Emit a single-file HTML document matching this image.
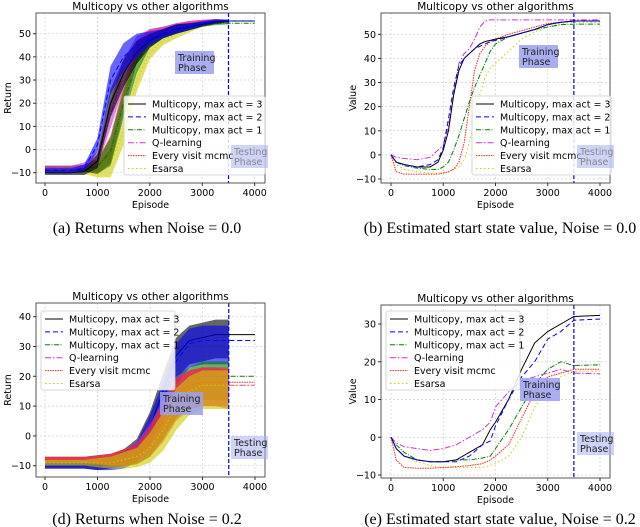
<!DOCTYPE html>
<html><head><meta charset="utf-8"><style>
body{margin:0;background:#fff;width:640px;height:527px;overflow:hidden}
svg{display:block}
text{font-family:"DejaVu Sans","Liberation Sans",sans-serif}
.cap{font-family:"Liberation Serif",serif;font-size:16px}
</style></head><body>
<svg id="fig" width="640" height="527"></svg>
<script>
// ---- shared ----
const seriesNames = ["Multicopy, max act = 3","Multicopy, max act = 2","Multicopy, max act = 1","Q-learning","Every visit mcmc","Esarsa"];
const xTicks = [0,1000,2000,3000,4000];
const retEpisodes = [0,250,500,750,1000,1250,1500,1750,2000,2250,2500,2750,3000,3250,3500,3750,4000];
// (a) returns noise 0.0: means and half-spreads
const aBlack  = [-10,-10,-10,-9.5,-5,20,33,42,47,50,52,53,54,55,55.5,55.5,55.5];
const aBlue   = [-9,-9,-9,-8,2,30,40,45,48,50,52,53,54.5,55.5,55.5,55.5,55.5];
const aGreen  = [-8,-8,-8,-8,-7.5,-1,20,38,47,50,52,53,54,54.5,54.5,54.5,54.5];
const aMagenta= [-8,-8,-8,-7,-4,15,33,44,49,51,52.5,54,55,55.5,55.5,55.5,55.5];
const aRed    = [-8,-8,-8,-8,-7.5,0,22,42,49,51,52.5,54,55,55.5,55.5,55.5,55.5];
const aYellow = [-9,-9,-9,-9,-9,-6,8,30,42,47,50,52,54,55,55.5,55.5,55.5];
const aSpread = [1,1,1,1.5,3,6,6,5,3,2,2,1.5,1,0.8,0.5,0.5,0.5];
const aYTicks = [-10,0,10,20,30,40,50];
// (d) returns noise 0.2
const dBlack  = [-10,-10,-10,-10,-10,-9,-7,-4,3,15,27,32,33,34,34,34,34];
const dBlue   = [-10,-10,-10,-10,-10,-9.5,-8,-5,2,12,25,31,32,32,32,32,32];
const dGreen  = [-8,-8,-8,-8,-8,-8,-7,-6,-2,6,14,18,20,20,20,20,20];
const dMagenta= [-8,-8,-8,-8,-8,-8,-7,-5,-1,6,14,17,18,18,17,17,17];
const dRed    = [-8,-8,-8,-8,-8,-8,-7,-6,-2,5,13,17,18,18,18,18,18];
const dYellow = [-9,-9,-9,-9,-9,-9,-8,-7,-4,2,10,15,17,17,17,17,17];
const dSpreadTop = [1,1,1,1,1.5,2,2.5,3,5,6,6,5,5,5,5,5,5];
const dSpreadLow = [1,1,1,1,1.5,2,3,3.5,5,7,8,8,8,8,8,8,8];
const dYTicks = [-10,0,10,20,30,40];
// (b) value noise 0.0
const bEpisodes = [0,100,250,500,750,900,1000,1100,1200,1300,1400,1500,1600,1700,1800,1900,2000,2250,2500,2750,3000,3250,3500,4000];
const bBlack  = [0,-3,-4,-5,-5,-3,2,10,25,35,40,42,44,46,47,47.5,48,49,50.5,52,54,55,55.5,55.5];
const bBlue   = [0,-3,-4,-5,-4,-2,3,15,28,37,40,42,44,45,46,47,47.5,49,50.5,52,54,55,55.5,55.5];
const bGreen  = [0,-3,-4.5,-5.5,-6,-6,-5,-3,2,8,15,22,28,33,38,43,46,49,50.5,52,53,54,54.2,54.2];
const bMagenta= [0,-1,-1.5,-2,-1,2,4,12,25,38,42,44,48,53,55.5,56,56,56,56,56,56,56,56,56];
const bRed    = [0,-7,-8,-8,-8,-8,-7.5,-7,-6,-3,5,20,35,42,45,47,48,50,51.5,53,54.5,55,55.5,55.5];
const bYellow = [0,-4,-6,-7,-7.5,-7.5,-7.5,-7,-6,-5,-2,5,15,25,32,36,38,43,48,51,53,54.5,55,55];
// (e) value noise 0.2
const eEpisodes = [0,100,250,500,750,1000,1250,1500,1750,1900,2000,2250,2500,2750,3000,3250,3500,4000];
const eBlack  = [0,-3,-5,-6,-6.5,-6.5,-6,-4,-2,2,4,10,18,25,28,30,32,32.3];
const eBlue   = [0,-3,-5,-6,-6.5,-6.5,-6.5,-5,-2,-1,3,10,16,20,26,28,31,31.3];
const eGreen  = [0,-2,-4,-6,-6.5,-6.5,-6,-6,-5.5,-5,-3,2,8,14,18,20,19,19.2];
const eMagenta= [0,-1.5,-2.5,-3,-3.5,-3,-2,0,2,4,8,12,15,16,17,18,17,16.8];
const eRed    = [0,-6,-8,-8.2,-8.2,-8,-7.8,-7.5,-7,-6,-5,-2,5,12,16,17,18,18];
const eYellow = [0,-3,-5,-6.5,-7.5,-8,-8,-8,-8,-7.5,-7,-5,0,8,13,16,17.5,17.5];
const eYTicks = [-10,0,10,20,30];

const colors = ["#000000","#0000ff","#008000","#cc33cc","#ff2020","#cccc00"];
const dashes = ["", "5,3", "5,1.5,1,1.5", "6,2,1.5,2", "1.5,1", "1.5,2.5"];
const NS="http://www.w3.org/2000/svg";
const svg=document.getElementById('fig');
function el(tag,attrs,parent){const e=document.createElementNS(NS,tag);for(const k in attrs)e.setAttribute(k,attrs[k]);(parent||svg).appendChild(e);return e;}
function txt(s,attrs,parent){const e=el('text',attrs,parent);e.textContent=s;return e;}

function makePlot(cfg){
  const g=el('g',{});
  
  
  const sx=v=>cfg.x0+(cfg.x4000-cfg.x0)*v/4000;
  const sy=v=>cfg.ya+(cfg.yb-cfg.ya)*(v-cfg.va)/(cfg.vb-cfg.va);
  el('rect',{x:cfg.L,y:cfg.T,width:cfg.R-cfg.L,height:cfg.B-cfg.T,fill:'#fff',stroke:'none'},g);
  xTicks.forEach(t=>{const l=el('line',{x1:sx(t),x2:sx(t),y1:cfg.T,y2:cfg.B,stroke:'#d0d0d0','stroke-width':0.7,'stroke-dasharray':'2,2'},g);
    });
  cfg.yTicks.forEach(t=>{const l=el('line',{x1:cfg.L,x2:cfg.R,y1:sy(t),y2:sy(t),stroke:'#d0d0d0','stroke-width':0.7,'stroke-dasharray':'2,2'},g);
    });
  cfg.order.forEach(i=>{
    const ys=cfg.series[i], eps=cfg.episodes;
    if(cfg.spreadTop){
      let up=[],lo=[];
      eps.forEach((e,k)=>{if(e<=3500){up.push(sx(e)+','+sy(ys[k]+cfg.spreadTop[k]));lo.unshift(sx(e)+','+sy(ys[k]-cfg.spreadLow[k]));}});
      const p=el('polygon',{points:up.concat(lo).join(' '),fill:colors[i],'fill-opacity':0.6,stroke:'none'},g);
      
      
    }
    const pts=eps.map((e,k)=>sx(e)+','+sy(ys[k])).join(' ');
    const pl=el('polyline',{points:pts,fill:'none',stroke:colors[i],'stroke-width':1,'stroke-dasharray':dashes[i]},g);
    
    
  });
  const vl=el('line',{x1:sx(3500),x2:sx(3500),y1:cfg.T,y2:cfg.B,stroke:'#0000ff','stroke-width':1.2,'stroke-dasharray':'4,2'},g);
  
  el('rect',{x:cfg.L,y:cfg.T,width:cfg.R-cfg.L,height:cfg.B-cfg.T,fill:'none',stroke:'#444','stroke-width':0.9},g);
  xTicks.forEach(t=>{el('line',{x1:sx(t),x2:sx(t),y1:cfg.B,y2:cfg.B+3,stroke:'#333'},g);
    const tt=txt(t,{x:sx(t),y:cfg.B+13,'font-size':9.5,'text-anchor':'middle'},g);
    });
  cfg.yTicks.forEach(t=>{el('line',{x1:cfg.L-3,x2:cfg.L,y1:sy(t),y2:sy(t),stroke:'#333'},g);
    const tt=txt(t<0?'\u2212'+(-t):t,{x:cfg.L-5,y:sy(t)+3.5,'font-size':9.5,'text-anchor':'end'},g);
    });
  const xt=txt('Episode',{x:(cfg.L+cfg.R)/2,y:cfg.B+25,'font-size':9.5,'text-anchor':'middle'},g);
  
  const yc=(cfg.T+cfg.B)/2;
  const yt=txt(cfg.ylabel,{x:cfg.L-25,y:yc,'font-size':9.5,'text-anchor':'middle',transform:`rotate(-90 ${cfg.L-25} ${yc})`},g);
  
  const ti=txt('Multicopy vs other algorithms',{x:(cfg.L+cfg.R)/2,y:cfg.T-3,'font-size':10.5,'text-anchor':'middle'},g);
  
  const lg=el('g',{},g);
  
  el('rect',{x:cfg.lx,y:cfg.ly,width:cfg.lw,height:79,fill:'#fff','fill-opacity':0.85,stroke:'#ccc','stroke-width':0.8,rx:2},lg);
  seriesNames.forEach((n,i)=>{const yy=cfg.ly+8+i*12.9;
    el('line',{x1:cfg.lx+4,x2:cfg.lx+22,y1:yy,y2:yy,stroke:colors[i],'stroke-width':1,'stroke-dasharray':dashes[i]},lg);
    const le=txt(n,{x:cfg.lx+28,y:yy+3.5,'font-size':9.5},lg);
    });
  [[cfg.tr,'Training','#9aa0ee',0.85],[cfg.te,'Testing','#a8aef0',0.55]].forEach(([b,w,c,o])=>{
    const bg=el('g',{},g);
    
    el('rect',{x:b[0],y:b[1],width:b[2],height:23,fill:c,'fill-opacity':o},bg);
    txt(w,{x:b[0]+3,y:b[1]+10,'font-size':9.5,fill:w=='Testing'&&cfg.fadeTest?'#888':'#222'},bg);
    txt('Phase',{x:b[0]+3,y:b[1]+20,'font-size':9.5,fill:w=='Testing'&&cfg.fadeTest?'#888':'#222'},bg);
  });
  const cp=txt(cfg.caption,{x:cfg.capx,y:cfg.capy,'text-anchor':'middle',class:'cap'});
  
}

makePlot({name:'plot-a',L:36,R:265,T:13,B:183,x0:45,x4000:254.7,ya:33.7,va:50,yb:172.7,vb:-10,yTicks:aYTicks,
  episodes:retEpisodes,series:[aBlack,aBlue,aGreen,aMagenta,aRed,aYellow],order:[5,4,2,3,0,1],
  spreadTop:aSpread,spreadLow:aSpread,ylabel:'Return',lx:124,ly:96,lw:141,
  tr:[175,51,39],te:[231,145,37],fadeTest:true,caption:'(a) Returns when Noise = 0.0',capx:147,capy:233});
makePlot({name:'plot-b',L:381,R:610,T:13,B:183,x0:391,x4000:600,ya:34.3,va:50,yb:179,vb:-10,yTicks:aYTicks,
  episodes:bEpisodes,series:[bBlack,bBlue,bGreen,bMagenta,bRed,bYellow],order:[5,4,2,3,0,1],
  ylabel:'Value',lx:472,ly:96,lw:139,tr:[519,45,39],te:[577,145,37],fadeTest:true,
  caption:'(b) Estimated start state value, Noise = 0.0',capx:500,capy:233});
makePlot({name:'plot-d',L:36,R:265,T:303,B:477,x0:45,x4000:255,ya:316.7,va:40,yb:465.7,vb:-10,yTicks:dYTicks,
  episodes:retEpisodes,series:[dBlack,dBlue,dGreen,dMagenta,dRed,dYellow],order:[0,1,2,3,4,5],
  spreadTop:dSpreadTop,spreadLow:dSpreadLow,ylabel:'Return',lx:41,ly:311,lw:134,
  tr:[160,392,43],te:[231,436,37],caption:'(d) Returns when Noise = 0.2',capx:147,capy:524});
makePlot({name:'plot-e',L:381,R:610,T:305,B:478,x0:391,x4000:600,ya:324,va:30,yb:475,vb:-10,yTicks:eYTicks,
  episodes:eEpisodes,series:[eBlack,eBlue,eGreen,eMagenta,eRed,eYellow],order:[5,4,3,2,0,1],
  ylabel:'Value',lx:386,ly:311,lw:134,tr:[520,378,40],te:[577,432,37],
  caption:'(e) Estimated start state value, Noise = 0.2',capx:500,capy:524});
</script>
</body></html>
